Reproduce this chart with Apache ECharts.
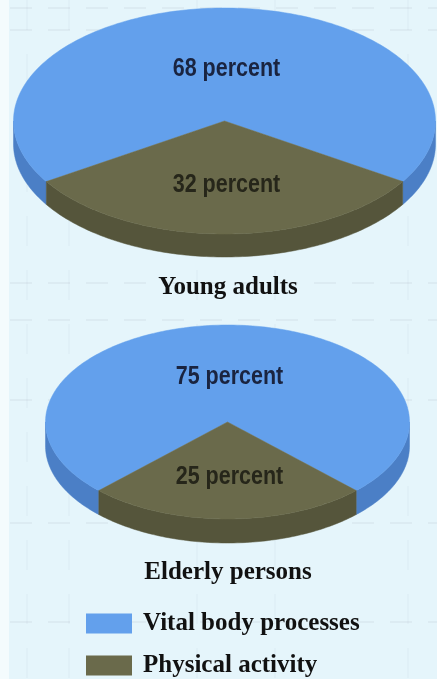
<!DOCTYPE html>
<html>
<head>
<meta charset="utf-8">
<script src="https://cdn.jsdelivr.net/npm/echarts@6/dist/echarts.min.js"></script>
<style>
  html, body { margin: 0; padding: 0; background: #e5f5fb; }
  #chart { width: 437px; height: 679px; }
</style>
</head>
<body>
<div id="chart"></div>
<script>
// Energy use split into two parts, for two age groups (percent).
const groups = ['Young adults', 'Elderly persons'];
const vitalShare = [68, 75];      // Vital body processes
const activityShare = [32, 25];   // Physical activity
const seriesNames = ['Vital body processes', 'Physical activity'];

// Drawing layout of each tilted pie (centre, radii, thickness), one per group.
const pieLayout = [
  { cx: 224.5, cy: 121, rx: 211, ry: 113, depth: 23, titleX: 228, titleTop: 275 },
  { cx: 227.5, cy: 422, rx: 182, ry: 97, depth: 24, titleX: 228, titleTop: 560 }
];

const topColors = ['#63a0ec', '#6a6a4b'];
const sideColors = ['#4b7fc6', '#55553b'];
const labelColors = ['#1a2440', '#26261a'];
const labelRadius = [0.46, 0.57];

// Faint ruled lines of the paper behind the chart.
const ruleRows = [8, 30, 283, 320, 400, 523, 622];
const ruleCols = [27, 69, 197, 275, 408];

// Start/end of every slice as fractions of the full circle.
// The second slice is centred at the front (bottom) of each pie.
function sliceData(seriesIdx) {
  return groups.map((g, gi) => {
    const a = vitalShare[gi], b = activityShare[gi];
    const total = a + b;
    const start = 0.5 + (b / total) / 2;   // fraction of turn, 0 = top, clockwise
    const s0 = seriesIdx === 0 ? start : start + a / total;
    const s1 = seriesIdx === 0 ? start + a / total : start + 1;
    const v = seriesIdx === 0 ? a : b;
    return { name: g, value: [gi, s0, s1, v] };
  });
}

function pt(L, deg, dy) {
  const r = deg * Math.PI / 180;
  return [L.cx + L.rx * Math.sin(r), L.cy - L.ry * Math.cos(r) + (dy || 0)];
}

function arcPoints(L, d0, d1, dy) {
  const pts = [];
  const n = Math.max(2, Math.ceil(Math.abs(d1 - d0)));
  for (let i = 0; i <= n; i++) pts.push(pt(L, d0 + (d1 - d0) * i / n, dy));
  return pts;
}

function makeRender(seriesIdx) {
  return function (params, api) {
    const gi = api.value(0);
    const L = pieLayout[gi];
    const d0 = api.value(1) * 360;
    const d1 = api.value(2) * 360;
    const children = [];

    // visible outer wall: angles between 90 and 270 (mod 360)
    for (let k = -1; k <= 2; k++) {
      const lo = Math.max(d0, 90 + 360 * k);
      const hi = Math.min(d1, 270 + 360 * k);
      if (hi > lo) {
        const topArc = arcPoints(L, lo, hi, 0);
        const botArc = arcPoints(L, hi, lo, L.depth);
        children.push({
          type: 'polygon',
          shape: { points: topArc.concat(botArc) },
          style: { fill: sideColors[seriesIdx], stroke: sideColors[seriesIdx], lineWidth: 0.5 }
        });
      }
    }

    // top face
    const face = [[L.cx, L.cy]].concat(arcPoints(L, d0, d1, 0));
    children.push({
      type: 'polygon',
      shape: { points: face },
      style: { fill: topColors[seriesIdx], stroke: topColors[seriesIdx], lineWidth: 0.5 }
    });

    // value label (condensed by a horizontal squeeze)
    const mid = (d0 + d1) / 2 * Math.PI / 180;
    const fr = labelRadius[seriesIdx];
    children.push({
      type: 'text',
      x: L.cx + L.rx * fr * Math.sin(mid) + 2,
      y: L.cy - L.ry * fr * Math.cos(mid),
      scaleX: 0.86,
      style: {
        text: api.value(3) + ' percent',
        font: 'bold 25px "Liberation Sans", Arial, sans-serif',
        fill: labelColors[seriesIdx],
        textAlign: 'center',
        textVerticalAlign: 'middle'
      }
    });
    return { type: 'group', children: children };
  };
}

const serifText = {
  fontFamily: '"Liberation Serif", "Times New Roman", serif',
  fontWeight: 'bold',
  fontSize: 25,
  color: '#111111'
};

const paperLines = [];
ruleRows.forEach(y => paperLines.push({
  type: 'line', silent: true, z: -10,
  shape: { x1: 10, y1: y, x2: 437, y2: y },
  style: { stroke: 'rgba(120,130,135,0.16)', lineWidth: 1, lineDash: [22, 16] }
}));
ruleCols.forEach(x => paperLines.push({
  type: 'line', silent: true, z: -10,
  shape: { x1: x, y1: 0, x2: x, y2: 679 },
  style: { stroke: 'rgba(120,130,135,0.07)', lineWidth: 1, lineDash: [30, 24] }
}));
paperLines.push({
  type: 'rect', silent: true, z: -9,
  shape: { x: 0, y: 0, width: 9, height: 679 },
  style: { fill: '#f4fbfd' }
});

const chart = echarts.init(document.getElementById('chart'), null, { renderer: 'canvas' });

chart.setOption({
  backgroundColor: '#e5f5fb',
  animation: false,
  graphic: { elements: paperLines },
  title: groups.map((g, gi) => ({
    text: g,
    left: pieLayout[gi].titleX,
    top: pieLayout[gi].titleTop,
    textAlign: 'center',
    padding: 0,
    textStyle: serifText
  })),
  legend: seriesNames.map((name, si) => ({
    left: 86,
    top: 611 + si * 42,
    padding: 0,
    itemWidth: 46,
    itemHeight: 20,
    icon: 'rect',
    selectedMode: false,
    data: [name],
    textStyle: Object.assign({ padding: [0, 0, 0, 6] }, serifText)
  })),
  series: seriesNames.map((name, si) => ({
    type: 'custom',
    name: name,
    coordinateSystem: 'none',
    itemStyle: { color: topColors[si] },
    renderItem: makeRender(si),
    data: sliceData(si)
  }))
});
</script>
</body>
</html>
